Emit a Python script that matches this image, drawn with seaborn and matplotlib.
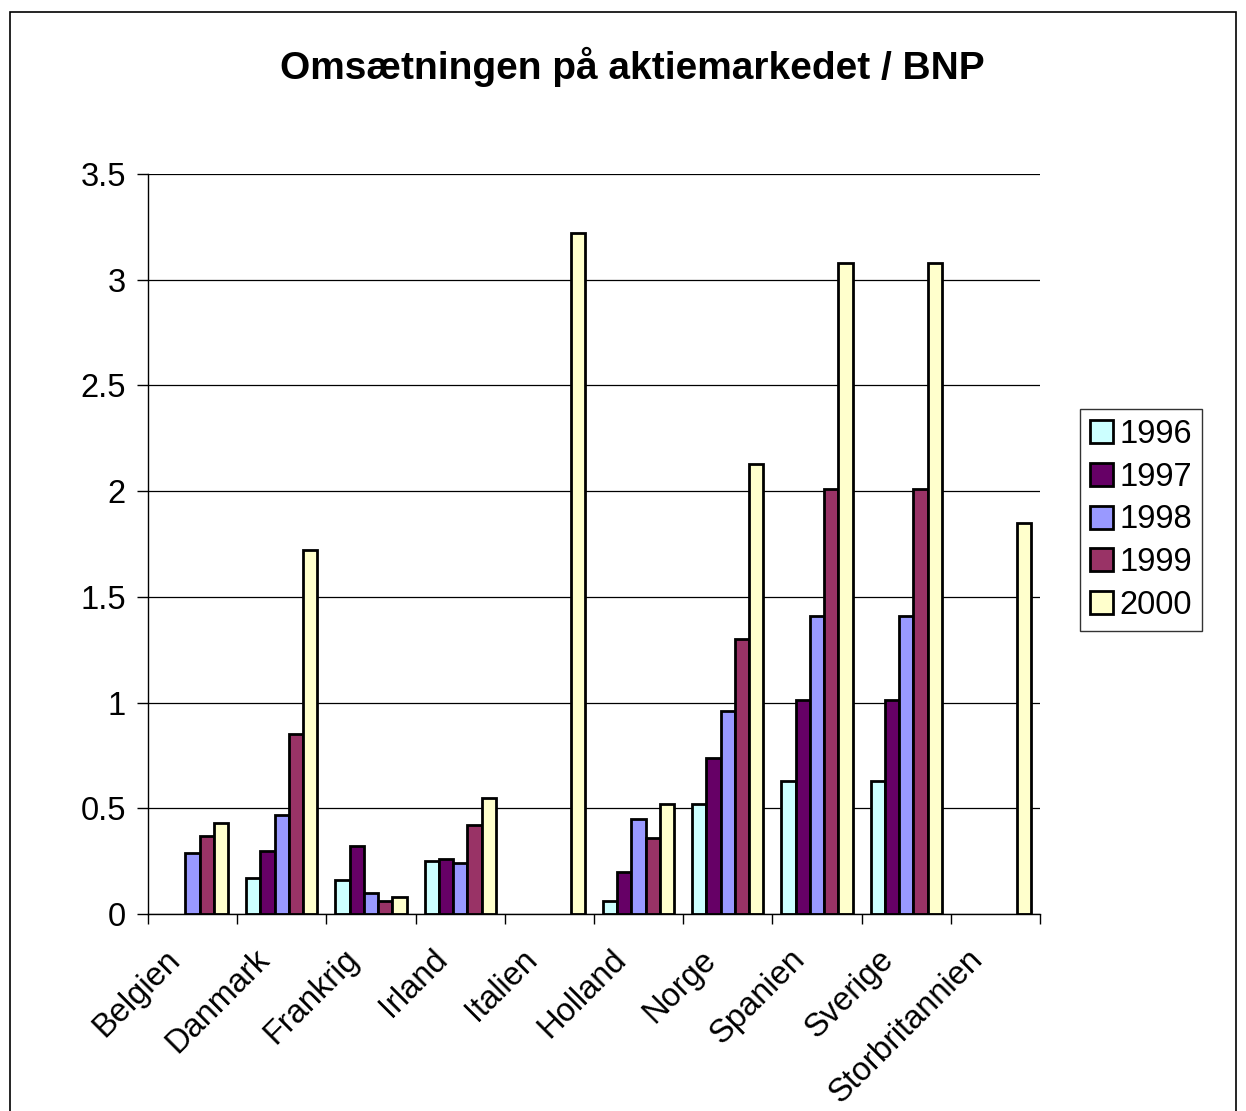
import numpy as np
import pandas as pd
import matplotlib
matplotlib.use("Agg")
import matplotlib.pyplot as plt
import matplotlib.transforms as mtransforms
from matplotlib.patches import Rectangle, Patch
from matplotlib.ticker import FuncFormatter
import seaborn as sns

countries = ["Belgien", "Danmark", "Frankrig", "Irland", "Italien", "Holland",
             "Norge", "Spanien", "Sverige", "Storbritannien"]
years = ["1996", "1997", "1998", "1999", "2000"]
v1996 = [np.nan, 0.17, 0.16, 0.25, np.nan, 0.06, 0.52, 0.63, 0.63, np.nan]
v1997 = [np.nan, 0.30, 0.32, 0.26, np.nan, 0.20, 0.74, 1.01, 1.01, np.nan]
v1998 = [0.29, 0.47, 0.10, 0.24, np.nan, 0.45, 0.96, 1.41, 1.41, np.nan]
v1999 = [0.37, 0.85, 0.06, 0.42, np.nan, 0.36, 1.30, 2.01, 2.01, np.nan]
v2000 = [0.43, 1.72, 0.08, 0.55, 3.22, 0.52, 2.13, 3.08, 3.08, 1.85]
colors = ["#CCFFFF", "#660066", "#9999FF", "#993366", "#FFFFCC"]
yticks = [0, 0.5, 1, 1.5, 2, 2.5, 3, 3.5]

rows = []
for yr, vals in zip(years, [v1996, v1997, v1998, v1999, v2000]):
    for c, v in zip(countries, vals):
        rows.append({"Land": c, "År": yr, "Værdi": v})
df = pd.DataFrame(rows).dropna()

sns.set_theme(style="white")
plt.rcParams["font.family"] = ["Liberation Sans", "DejaVu Sans"]
plt.rcParams["text.color"] = "black"
plt.rcParams["xtick.color"] = "black"
plt.rcParams["ytick.color"] = "black"
plt.rcParams["axes.labelcolor"] = "black"

fig = plt.figure(figsize=(12.46, 11.11), dpi=100)
ax = fig.add_axes([148/1246, 1-914/1111, (1040-148)/1246, (914-174)/1111])

sns.barplot(data=df, x="Land", y="Værdi", hue="År", order=countries,
            hue_order=years, palette=colors, width=0.8, ax=ax,
            edgecolor="black", linewidth=2, legend=False, saturation=1)

ax.set_xlim(-0.5, len(countries) - 0.5)
ax.set_ylim(0, 3.5)
ax.set_yticks(yticks)
ax.yaxis.set_major_formatter(FuncFormatter(lambda v, p: f"{v:g}"))
ax.yaxis.grid(True, color="black", linewidth=0.9)
ax.set_axisbelow(True)
ax.set_xlabel("")
ax.set_ylabel("")
for s in ["top", "right"]:
    ax.spines[s].set_visible(False)
for s in ["left", "bottom"]:
    ax.spines[s].set_color("black")
    ax.spines[s].set_linewidth(1.0)

ax.tick_params(axis="y", which="major", left=True, length=8, width=1,
               color="black", labelsize=23.5, pad=8, labelcolor="black")
ax.set_xticks(np.arange(len(countries)))
ax.set_xticks(np.arange(len(countries) + 1) - 0.5, minor=True)
ax.tick_params(axis="x", which="major", bottom=False, labelsize=23.5, pad=14,
               labelcolor="black")
ax.tick_params(axis="x", which="minor", bottom=True, length=7, width=1, color="black")
ax.set_xticklabels(countries, rotation=45, ha="right", rotation_mode="anchor")
offset = mtransforms.ScaledTranslation(-28/100, -2/100, fig.dpi_scale_trans)
for lbl in ax.get_xticklabels():
    lbl.set_transform(lbl.get_transform() + offset)

fig.suptitle("Omsætningen på aktiemarkedet / BNP", fontsize=28, fontweight="bold",
             x=632/1246, y=1-67/1111, va="center", color="black")

handles = [Patch(facecolor=c, edgecolor="black", linewidth=2) for c in colors]
leg = fig.legend(handles, years, loc="center", bbox_to_anchor=(1141/1246, 1-520/1111),
                 fontsize=23.5, frameon=True, fancybox=False, edgecolor="black",
                 handlelength=0.7, handleheight=0.7, handletextpad=0.2,
                 labelspacing=0.36, borderpad=0.3)
leg.get_frame().set_linewidth(1.0)
for t in leg.get_texts():
    t.set_color("black")

fig.patches.append(Rectangle((10/1246, -0.02), (1236-10)/1246, 1.02 - 12/1111,
                             transform=fig.transFigure, fill=False,
                             edgecolor="black", linewidth=1.2))

fig.savefig("out.png", dpi=100, facecolor="white")
